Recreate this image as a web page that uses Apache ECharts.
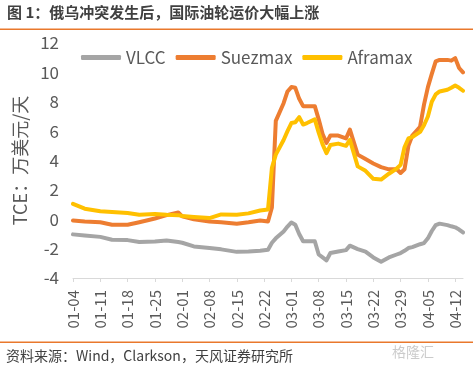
<!DOCTYPE html>
<html><head><meta charset="utf-8">
<script src="https://cdn.jsdelivr.net/npm/echarts@6/dist/echarts.min.js"></script>
<style>html,body{margin:0;padding:0;background:#fff}#c{width:473px;height:369px}</style>
</head><body><div id="c"></div>
<script>
// Sample dates (MM-DD, 2022) and values (TCE, 万美元/天)
var sampleDates = ['01-04','01-07','01-11','01-14','01-18','01-21','01-25','01-28','01-31','02-01','02-04','02-08','02-11','02-15','02-18','02-21','02-23','02-24','02-25','02-27','02-28','03-01','03-02','03-03','03-04','03-05','03-07','03-08','03-09','03-10','03-11','03-13','03-15','03-16','03-18','03-20','03-22','03-24','03-26','03-28','03-29','03-30','03-31','04-01','04-03','04-04','04-05','04-06','04-07','04-08','04-10','04-11','04-12','04-13','04-14'];
var vlcc = [-1.03,-1.1,-1.2,-1.4,-1.42,-1.55,-1.52,-1.44,-1.55,-1.6,-1.85,-1.95,-2.05,-2.22,-2.2,-2.15,-2.08,-1.6,-1.3,-0.83,-0.5,-0.22,-0.37,-1.0,-1.5,-1.5,-1.5,-2.4,-2.6,-2.8,-2.3,-2.2,-2.1,-1.8,-2.03,-2.2,-2.6,-2.9,-2.6,-2.4,-2.3,-2.15,-1.96,-1.9,-1.7,-1.62,-1.3,-0.8,-0.4,-0.3,-0.4,-0.48,-0.55,-0.7,-0.9];
var suezmax = [-0.08,-0.15,-0.2,-0.37,-0.37,-0.2,0.05,0.28,0.46,0.2,0.0,-0.15,-0.2,-0.3,-0.2,-0.08,-0.15,0.8,6.7,7.9,8.7,9.0,8.95,8.2,7.7,7.7,7.7,6.8,5.8,5.2,5.7,5.7,5.5,6.1,4.4,4.1,3.8,3.55,3.4,3.4,3.15,3.4,5.0,5.7,6.3,7.8,9.0,9.9,10.75,10.85,10.85,10.8,10.97,10.3,10.0];
var aframax = [1.05,0.72,0.55,0.5,0.42,0.3,0.36,0.3,0.28,0.22,0.15,0.08,0.33,0.3,0.4,0.6,0.66,3.5,4.4,5.4,6.0,6.55,6.6,6.95,6.45,6.55,6.8,5.9,5.1,4.5,5.05,5.15,5.0,5.4,3.6,3.3,2.75,2.7,3.1,3.45,3.7,4.9,5.5,5.6,5.95,6.4,7.0,8.0,8.5,8.7,8.82,8.95,9.1,8.95,8.75];
var seriesNames = ['VLCC','Suezmax','Aframax'];
var yTicks = {min:-4, max:12, interval:2};
var startDate = '2022-01-04', endDate = '2022-04-14';

// build calendar-day categories
var categories = [];
(function(){
  var d = new Date(startDate + 'T00:00:00Z'), e = new Date(endDate + 'T00:00:00Z');
  while (d <= e) {
    var m = ('0' + (d.getUTCMonth()+1)).slice(-2), dd = ('0' + d.getUTCDate()).slice(-2);
    categories.push(m + '-' + dd);
    d.setUTCDate(d.getUTCDate()+1);
  }
})();
function toSeries(vals){
  var map = {};
  sampleDates.forEach(function(k,i){ map[k] = vals[i]; });
  return categories.map(function(c){ return (c in map) ? map[c] : null; });
}
var FONT = 'Noto Sans CJK SC';
var GRAY = '#595959';
var chart = echarts.init(document.getElementById('c'), null, {renderer:'canvas'});
var colors = ['#A5A5A5','#ED7D31','#FFC000'];
var seriesData = [vlcc, suezmax, aframax];
chart.setOption({
  animation:false,
  textStyle:{fontFamily:FONT},
  grid:{left:73, right:10, top:43, bottom:91},
  legend:{
    data:seriesNames, top:44, left:76, itemWidth:40, itemHeight:5, icon:'roundRect', itemGap:10,
    textStyle:{fontSize:17, color:GRAY, fontFamily:FONT}
  },
  xAxis:[{
    type:'category', data:categories, boundaryGap:false,
    axisLine:{show:false}, axisTick:{show:false},
    axisLabel:{interval:6, rotate:90, fontSize:15, color:GRAY, margin:12, fontFamily:FONT}
  },{
    type:'category', data:categories, boundaryGap:false, position:'bottom',
    axisLine:{show:true, onZero:true, lineStyle:{color:'#D9D9D9', width:1}},
    axisTick:{show:true, interval:6, length:4, lineStyle:{color:'#D9D9D9'}},
    axisLabel:{show:false}
  }],
  yAxis:{
    type:'value', min:yTicks.min, max:yTicks.max, interval:yTicks.interval,
    splitLine:{show:false}, axisLine:{show:false}, axisTick:{show:false},
    axisLabel:{fontSize:17, color:GRAY, margin:14, fontFamily:FONT},
    name:'TCE：万美元/天', nameLocation:'middle', nameGap:44, nameRotate:90,
    nameTextStyle:{fontSize:18, color:GRAY, fontFamily:FONT}
  },
  series: seriesNames.map(function(n,i){
    return {name:n, type:'line', data:toSeries(seriesData[i]), connectNulls:true,
      showSymbol:false, symbol:'none', z: i===0?3:(i===2?5:4),
      lineStyle:{color:colors[i], width:4, cap:'round', join:'round'}, itemStyle:{color:colors[i]}};
  }),
  graphic:[
    {type:'text', left:7, top:5, style:{text:'图 1：俄乌冲突发生后，国际油轮运价大幅上涨', fontSize:15, fontWeight:'bold', fill:'#404040', fontFamily:FONT}},
    {type:'rect', shape:{x:0, y:28.5, width:473, height:1.5}, style:{fill:'#E9782C'}},
    {type:'rect', shape:{x:0, y:341.5, width:473, height:1.5}, style:{fill:'#E9782C'}},
    {type:'text', left:6, top:349, style:{text:'资料来源：Wind，Clarkson，天风证券研究所', fontSize:14, fill:'#404040', fontFamily:FONT}},
    {type:'text', left:392, top:345, style:{text:'格隆汇', fontSize:14, fill:'rgba(160,160,160,0.55)', fontFamily:FONT}}
  ]
});
</script></body></html>
